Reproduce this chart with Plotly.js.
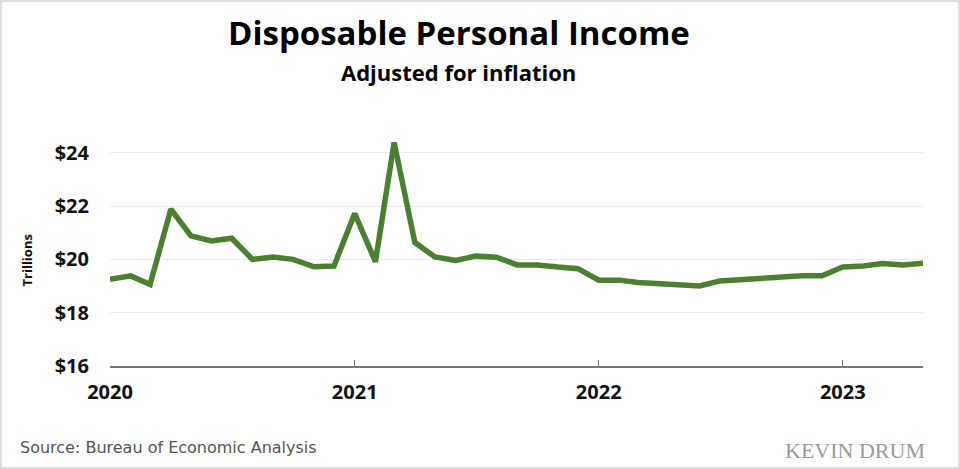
<!DOCTYPE html>
<html>
<head>
<meta charset="utf-8">
<script src="https://cdn.plot.ly/plotly-3.0.1.min.js"></script>
<style>
  html, body { margin: 0; padding: 0; background: #fff; }
  #wrap { position: relative; width: 960px; height: 469px; }
  #chart { width: 960px; height: 469px; }
  #frame { position: absolute; left: 0; top: 0; width: 960px; height: 469px; box-sizing: border-box;
           border: 2px solid #dcdcdc; pointer-events: none; }
</style>
</head>
<body>
<div id="wrap"><div id="chart"></div><div id="frame"></div></div>
<script>
// Monthly real disposable personal income, trillions of dollars (annual rate)
var months = [
  "2020-01", "2020-02", "2020-03", "2020-04", "2020-05", "2020-06", "2020-07", "2020-08", "2020-09", "2020-10", "2020-11", "2020-12",
  "2021-01", "2021-02", "2021-03", "2021-04", "2021-05", "2021-06", "2021-07", "2021-08", "2021-09", "2021-10", "2021-11", "2021-12",
  "2022-01", "2022-02", "2022-03", "2022-04", "2022-05", "2022-06", "2022-07", "2022-08", "2022-09", "2022-10", "2022-11", "2022-12",
  "2023-01", "2023-02", "2023-03", "2023-04", "2023-05"
];
var income = [
  19.25, 19.38, 19.06, 21.88, 20.88, 20.69, 20.79, 20.00, 20.09, 20.00, 19.72, 19.75,
  21.72, 19.91, 24.38, 20.63, 20.09, 19.96, 20.12, 20.08, 19.79, 19.79, 19.71, 19.65,
  19.22, 19.22, 19.13, 19.09, 19.09, 19.00, 19.19, 19.25, 19.29, 19.34, 19.38, 19.38,
  19.71, 19.75, 19.84, 19.79, 19.85
];
var yearTicks = ["2020-01-01", "2021-01-01", "2022-01-01", "2023-01-01"];
var yearLabels = ["2020", "2021", "2022", "2023"];
var yTicks = [16, 18, 20, 22, 24];
var yTickLabels = ["$16", "$18", "$20", "$22", "$24"];

var FAM = "'Open Sans', Lato, sans-serif";
function b(s) { return "<b>" + s + "</b>"; }

var trace = {
  x: months, y: income, type: "scatter", mode: "lines",
  line: { color: "#4c8031", width: 5.5 },
  hoverinfo: "skip", showlegend: false
};

var layout = {
  width: 960, height: 469,
  paper_bgcolor: "#ffffff", plot_bgcolor: "#ffffff",
  margin: { l: 110, r: 37, t: 126, b: 103 },
  xaxis: {
    type: "date", range: ["2020-01-01", "2023-05-01"],
    tickvals: yearTicks, ticktext: yearLabels.map(b),
    showgrid: false, zeroline: false,
    showline: true, linecolor: "#777", linewidth: 1.5,
    ticks: "inside", ticklen: 6, tickcolor: "#777", tickwidth: 1.2,
    tickfont: { family: FAM, size: 20, color: "#111" },
    ticklabelstandoff: 7
  },
  yaxis: {
    range: [16, 25], tickvals: yTicks, ticktext: yTickLabels.map(b),
    showgrid: true, gridcolor: "#ececec", gridwidth: 1,
    zeroline: false, showline: false, ticks: "",
    tickfont: { family: FAM, size: 20, color: "#111" },
    ticklabelstandoff: 20
  },
  annotations: [
    { text: b("Disposable Personal Income"), xref: "paper", yref: "paper", x: 0.429, y: 1.39,
      xanchor: "center", yanchor: "middle", showarrow: false,
      font: { family: FAM, size: 33, color: "#000" } },
    { text: b("Adjusted for inflation"), xref: "paper", yref: "paper", x: 0.429, y: 1.225,
      xanchor: "center", yanchor: "middle", showarrow: false,
      font: { family: FAM, size: 22, color: "#000" } },
    { text: b("Trillions"), xref: "paper", yref: "paper", x: -0.102, y: 0.44, textangle: -90,
      xanchor: "center", yanchor: "middle", showarrow: false,
      font: { family: FAM, size: 13, color: "#111" } },
    { text: "Source: Bureau of Economic Analysis", xref: "paper", yref: "paper", x: -0.113, y: -0.34,
      xanchor: "left", yanchor: "middle", showarrow: false,
      font: { family: "'DejaVu Sans', sans-serif", size: 16, color: "#555" } },
    { text: "KEVIN DRUM", xref: "paper", yref: "paper", x: 1.005, y: -0.35,
      xanchor: "right", yanchor: "middle", showarrow: false,
      font: { family: "'Liberation Serif', serif", size: 22, color: "#9a9a9a" } }
  ]
};

Plotly.newPlot("chart", [trace], layout, { displayModeBar: false, staticPlot: true });
</script>
</body>
</html>
